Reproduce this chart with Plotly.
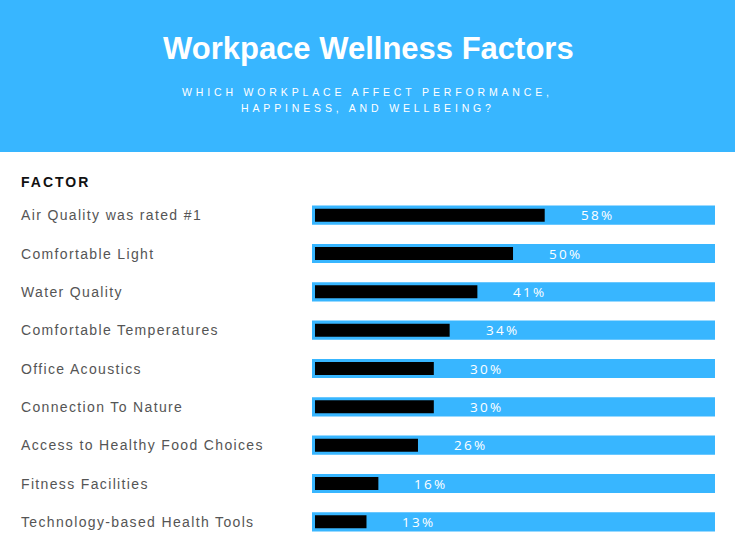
import plotly.graph_objects as go

# ---- data ----
categories = [
    "Air Quality was rated #1",
    "Comfortable Light",
    "Water Quality",
    "Comfortable Temperatures",
    "Office Acoustics",
    "Connection To Nature",
    "Access to Healthy Food Choices",
    "Fitness Facilities",
    "Technology-based Health Tools",
]
values = [58, 50, 41, 34, 30, 30, 26, 16, 13]
title_text = "Workpace Wellness Factors"
subtitle_lines = ["WHICH WORKPLACE AFFECT PERFORMANCE,", "HAPPINESS, AND WELLBEING?"]
column_header = "FACTOR"

# ---- layout constants ----
W, H = 735, 551
L, R, T, B = 312, 20, 196, 10
PW, PH = W - L - R, H - T - B
XMIN, XMAX = -0.76, 101.0
BLUE = "#38b6ff"


def px_y(p):
    return 1 + (T - p) / PH


def px_x(p):
    return (p - L) / PW


def spaced(text, ls):
    return f'<span style="letter-spacing:{ls}px">{text}</span>'


fig = go.Figure()
fig.add_trace(go.Bar(
    y=categories, x=[XMAX - XMIN] * len(categories), base=XMIN,
    orientation="h", width=0.5, marker=dict(color=BLUE, line=dict(width=0)),
    hoverinfo="skip", showlegend=False,
))
fig.add_trace(go.Bar(
    y=categories, x=values, orientation="h", width=0.34,
    marker=dict(color="#000000", line=dict(width=0)),
    showlegend=False,
))

annotations = []
for c, v in zip(categories, values):
    annotations.append(dict(
        x=v, y=c, xref="x", yref="y", xanchor="left", yanchor="middle",
        xshift=34, showarrow=False,
        text=spaced(f"{v}%", 2.3),
        font=dict(family="Open Sans", size=13.5, color="white"),
    ))
    annotations.append(dict(
        x=0, y=c, xref="paper", yref="y", xanchor="left", yanchor="middle",
        xshift=21.2 - L - 2, showarrow=False,
        text=spaced(c, 1.35),
        font=dict(family="Liberation Sans", size=14, color="#555555"),
    ))

annotations.append(dict(
    x=px_x(368), y=px_y(48.5), xref="paper", yref="paper",
    xanchor="center", yanchor="middle", showarrow=False,
    text=f"<b>{title_text}</b>",
    font=dict(family="Liberation Sans", size=31, color="white"),
))
for i, line in enumerate(subtitle_lines):
    annotations.append(dict(
        x=px_x(367.5), y=px_y(92 + i * 16.4), xref="paper", yref="paper",
        xanchor="center", yanchor="middle", showarrow=False,
        text=spaced(line, 3.85),
        font=dict(family="Liberation Sans", size=10.5, color="white"),
    ))
annotations.append(dict(
    x=0, y=px_y(182), xref="paper", yref="paper", xanchor="left", yanchor="middle",
    xshift=20.8 - L - 2, showarrow=False,
    text=spaced(f"<b>{column_header}</b>", 2),
    font=dict(family="Liberation Sans", size=14, color="#111111"),
))

fig.update_layout(
    width=W, height=H,
    margin=dict(l=L, r=R, t=T, b=B, pad=0),
    barmode="overlay",
    paper_bgcolor="white", plot_bgcolor="white",
    xaxis=dict(range=[XMIN, XMAX], visible=False, fixedrange=True),
    yaxis=dict(autorange="reversed", visible=False, fixedrange=True),
    annotations=annotations,
    shapes=[dict(
        type="rect", xref="paper", yref="paper", layer="below",
        x0=px_x(0), x1=px_x(W), y0=px_y(152), y1=px_y(0),
        fillcolor=BLUE, line=dict(width=0),
    )],
)

fig.write_html(
    "out.html",
    config={"displayModeBar": False},
    post_script="document.body.style.margin='0';",
)
